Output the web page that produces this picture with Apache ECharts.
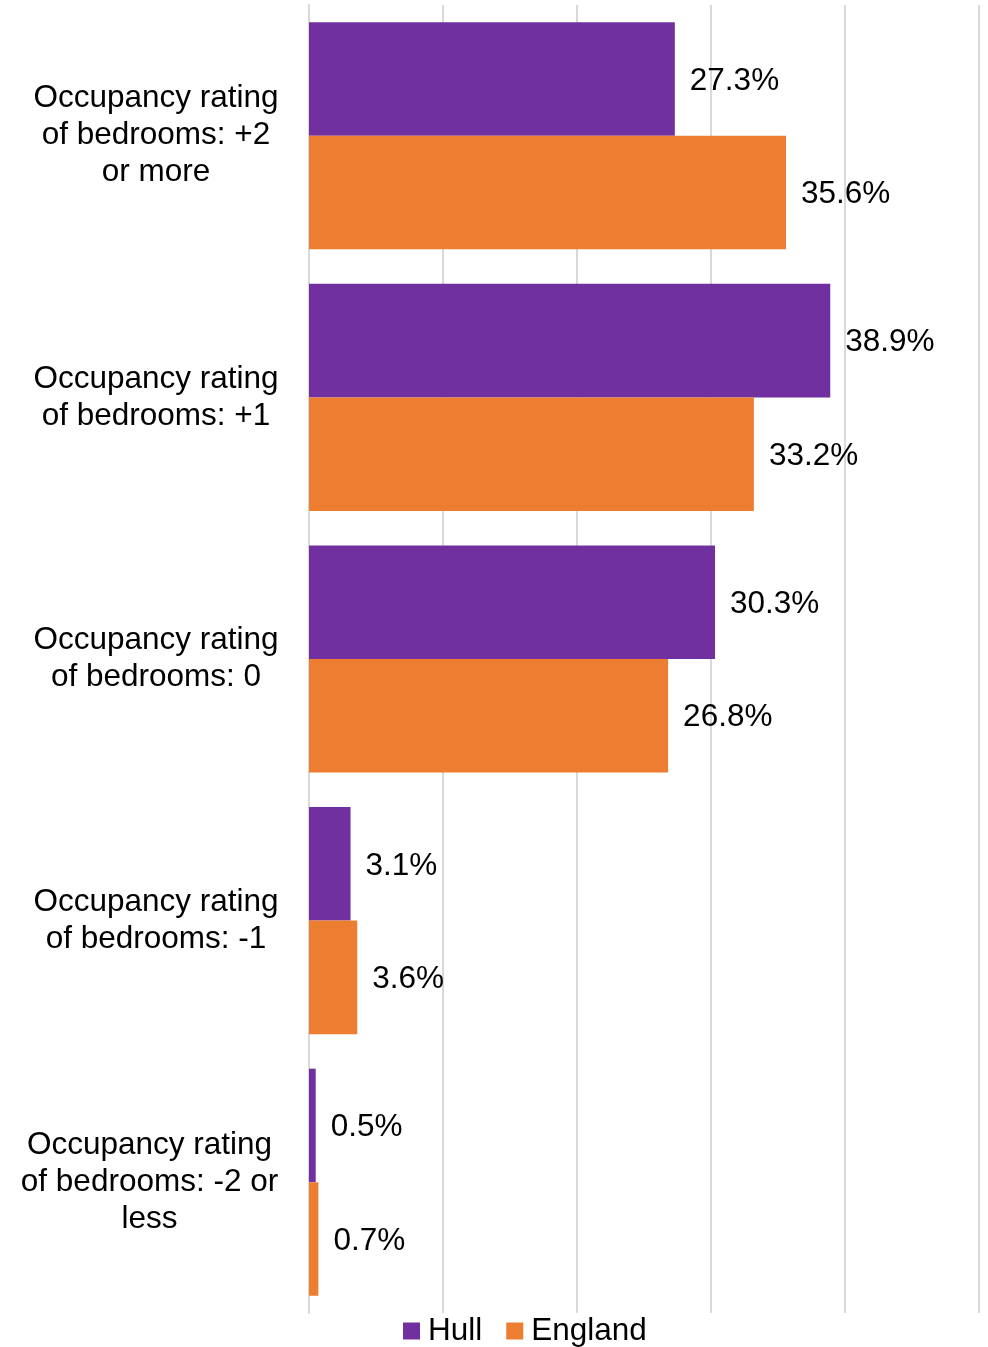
<!DOCTYPE html>
<html>
<head>
<meta charset="utf-8">
<script src="https://cdn.jsdelivr.net/npm/echarts@6/dist/echarts.min.js"></script>
<style>
html,body{margin:0;padding:0;background:#fff;}
#chart{width:988px;height:1347px;}
</style>
</head>
<body>
<div id="chart"></div>
<script>
const categories = [
  'Occupancy rating\nof bedrooms: +2\nor more',
  'Occupancy rating\nof bedrooms: +1',
  'Occupancy rating\nof bedrooms: 0',
  'Occupancy rating\nof bedrooms: -1',
  'Occupancy rating\nof bedrooms: -2 or\nless'
];
const hull = [27.3, 38.9, 30.3, 3.1, 0.5];
const england = [35.6, 33.2, 26.8, 3.6, 0.7];
const seriesNames = ['Hull', 'England'];

const chart = echarts.init(document.getElementById('chart'), null, {renderer: 'canvas'});
const font = 'Arial, Liberation Sans, sans-serif';
const labelCfg = {
  show: true,
  position: 'right',
  distance: 15,
  offset: [0, 2],
  color: '#000',
  fontFamily: font,
  fontSize: 31.5,
  formatter: p => p.value.toFixed(1) + '%'
};
const yData = categories.map((c, i) => i === categories.length - 1
  ? {value: c, textStyle: {align: 'center', padding: [4, 13, 0, 0]}}
  : c);
chart.setOption({
  animation: false,
  textStyle: {fontFamily: font},
  grid: {left: 309, right: 9, top: 5, bottom: 34, containLabel: false, outerBoundsMode: 'none'},
  legend: {
    data: seriesNames,
    left: 398,
    top: 1310,
    itemWidth: 17,
    itemHeight: 17,
    itemGap: 24,
    icon: 'rect',
    textStyle: {fontSize: 31.5, color: '#000', fontFamily: font, padding: [0, 0, 0, 3]}
  },
  xAxis: {
    type: 'value',
    min: 0,
    max: 50,
    interval: 10,
    axisLabel: {show: false},
    axisLine: {show: false},
    axisTick: {show: false},
    splitLine: {show: true, lineStyle: {color: '#d9d9d9', width: 2}}
  },
  yAxis: {
    type: 'category',
    data: yData,
    inverse: true,
    axisLine: {show: true, lineStyle: {color: '#d9d9d9', width: 2}},
    axisTick: {show: false},
    axisLabel: {
      color: '#000',
      fontSize: 31.5,
      fontFamily: font,
      lineHeight: 37,
      align: 'center',
      padding: [4, 0, 0, 0],
      margin: 153
    }
  },
  series: [
    {
      name: seriesNames[0],
      type: 'bar',
      data: hull,
      itemStyle: {color: '#7030A0'},
      barGap: '0%',
      barCategoryGap: '13.2%',
      label: labelCfg
    },
    {
      name: seriesNames[1],
      type: 'bar',
      data: england,
      itemStyle: {color: '#ED7D31'},
      barGap: '0%',
      barCategoryGap: '13.2%',
      label: labelCfg
    }
  ]
});
</script>
</body>
</html>
